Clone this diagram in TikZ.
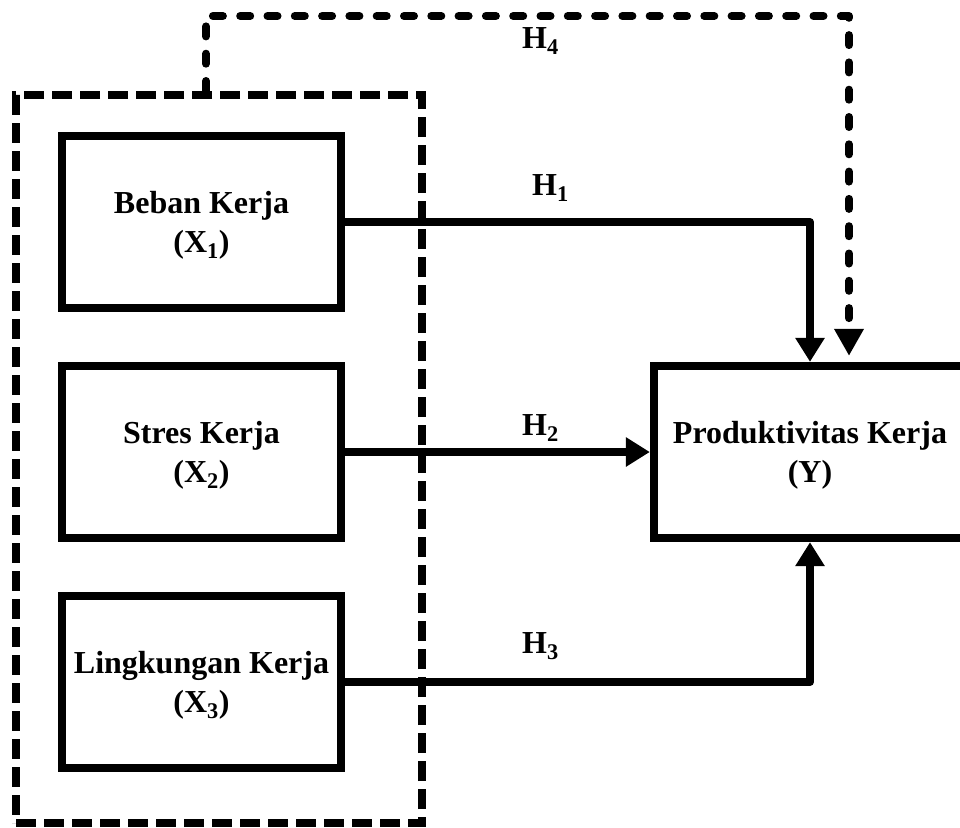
\documentclass[tikz,border=0pt]{standalone}
\usepackage{fontspec}
\setmainfont{Liberation Serif}
\usetikzlibrary{arrows.meta,shadows}
\begin{document}
\begin{tikzpicture}[x=1pt,y=-1pt,
  lbl/.style={font=\bfseries\fontsize{32}{39}\selectfont},
  varbox/.style={lbl,draw,line width=8.3pt,fill=white,align=center,inner sep=0pt,
    minimum width=279pt,minimum height=172pt,text depth=0pt,
    drop shadow={shadow xshift=3pt,shadow yshift=-3pt,opacity=0.18,fill=black}},
  conn/.style={line width=8pt,line join=round,-{Triangle[length=24pt,width=28pt]}},
  grpdash/.style={draw,line width=8pt,dash pattern=on 20pt off 8pt,inner sep=0pt,
    minimum width=406pt,minimum height=728pt},
  hfour/.style={line width=8pt,line cap=round,line join=round,dash pattern=on 10pt off 17.3pt,
    -{Triangle[length=27pt,width=28pt]}},
  hlab/.style={lbl,inner sep=0pt,anchor=base west}]
\useasboundingbox (0,0) rectangle (960,827);
\clip (0,0) rectangle (960,827);
\fill[white] (0,0) rectangle (960,827);

% group (dashed) box
\node[grpdash] (grp) at (219,459) {};

% variable boxes
\node[varbox] (b1) at (201.5,222) {Beban Kerja\\(X\textsubscript{1})};
\node[varbox] (b2) at (201.5,452) {Stres Kerja\\(X\textsubscript{2})};
\node[varbox] (b3) at (201.5,682) {Lingkungan Kerja\\(X\textsubscript{3})};
\node[varbox,minimum width=312pt] (y) at (810,452) {Produktivitas Kerja\\(Y)};

% connectors
\draw[conn] (b1.east) -| (y.north);
\draw[conn] (b2.east) -- (y.west);
\draw[conn] (b3.east) -| (y.south);

% H4 dashed connector
\coordinate (c1) at (206,16);
\coordinate (c2) at (849,16);
\coordinate (h4tip) at ([yshift=6pt]y.north -| c2);
\draw[hfour] (grp.north -| c1) -- (c1) -- (c2) -- (h4tip);

% labels
\node[hlab] (l4) at (522,48) {H\textsubscript{4}};
\node[hlab] (l1) at (532,195) {H\textsubscript{1}};
\node[hlab] (l2) at (522,435) {H\textsubscript{2}};
\node[hlab] (l3) at (522,653) {H\textsubscript{3}};
\end{tikzpicture}
\end{document}
